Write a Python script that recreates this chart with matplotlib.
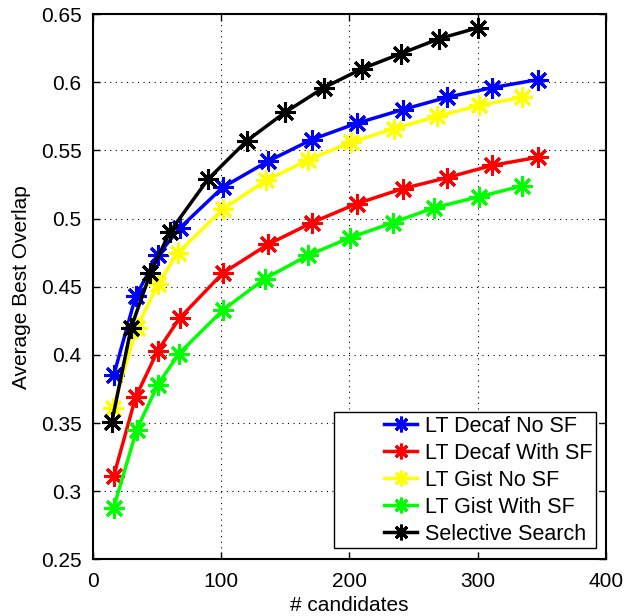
"""
plot average best overlap vs number of candidates
"""

import numpy as np
import matplotlib as mpl
import matplotlib.pyplot as plt
from matplotlib.legend_handler import HandlerLine2D

#%% global plot settings

mpl.rcParams['xtick.direction'] = 'in'
mpl.rcParams['ytick.direction'] = 'in'
mpl.rcParams['xtick.top'] = True
mpl.rcParams['ytick.right'] = True
mpl.rcParams['xtick.major.size'] = 5
mpl.rcParams['ytick.major.size'] = 5
plt.rc('font', **{'family': 'sans-serif', 'sans-serif': ['Liberation Sans'], 'size': 15})

#%% data

# LT Decaf No SF
x_decaf_nosf = [16.4, 33.5, 50.7, 67.8, 101.4, 136.5, 170.8, 205.9, 241.7, 276.0, 311.0, 347.0]
y_decaf_nosf = [0.385, 0.443, 0.473, 0.493, 0.523, 0.542, 0.558, 0.570, 0.580, 0.589, 0.596, 0.602]

# LT Decaf With SF
x_decaf_sf = [16.4, 33.5, 50.7, 67.8, 101.4, 136.5, 170.8, 205.9, 241.7, 276.0, 311.0, 347.0]
y_decaf_sf = [0.311, 0.369, 0.403, 0.427, 0.460, 0.481, 0.497, 0.511, 0.522, 0.530, 0.539, 0.545]

# LT Gist No SF
x_gist_nosf = [15.8, 34.5, 50.9, 66.5, 101.6, 135.1, 167.8, 201.3, 234.8, 268.3, 301.1, 334.6]
y_gist_nosf = [0.361, 0.420, 0.452, 0.475, 0.507, 0.528, 0.543, 0.556, 0.566, 0.575, 0.583, 0.589]

# LT Gist With SF
x_gist_sf = [16.4, 34.3, 50.7, 67.3, 101.6, 134.3, 167.8, 200.5, 234.0, 266.0, 301.0, 334.6]
y_gist_sf = [0.288, 0.345, 0.378, 0.401, 0.433, 0.456, 0.473, 0.486, 0.497, 0.508, 0.516, 0.524]

# Selective Search
x_ss = [15, 30, 45, 60, 90, 120, 150, 180, 210, 240, 270, 300]
y_ss = [0.351, 0.420, 0.460, 0.490, 0.529, 0.557, 0.578, 0.596, 0.610, 0.621, 0.632, 0.640]

xs = [x_decaf_nosf, x_decaf_sf, x_gist_nosf, x_gist_sf, x_ss]
ys = [y_decaf_nosf, y_decaf_sf, y_gist_nosf, y_gist_sf, y_ss]
legend = ['LT Decaf No SF', 'LT Decaf With SF', 'LT Gist No SF',
          'LT Gist With SF', 'Selective Search']
colors = ['#0000ff', '#ff0000', '#ffff00', '#00ff00', '#000000']

#%% plot

fig = plt.figure(figsize=(6.26, 6.16), dpi=100)
ax = fig.add_axes([0.148, 0.092, 0.820, 0.885])

# matlab style '*' marker: 8-armed asterisk
star = (8, 2, 0)

for i in range(len(xs)):
    ax.plot(xs[i], ys[i], color=colors[i], linestyle='-', linewidth=2.5,
            marker=star, markersize=15, markeredgewidth=2.2,
            markeredgecolor=colors[i], label=legend[i])

#------------------------------------------------------------------------------
# plot settings

# axes
ax.set_xlim(0, 400)
ax.set_ylim(0.25, 0.65)
ax.set_xticks(np.arange(0, 401, 100))
ax.set_yticks(np.arange(0.25, 0.651, 0.05))
ax.set_yticklabels(['0.25', '0.3', '0.35', '0.4', '0.45', '0.5', '0.55', '0.6', '0.65'])
ax.grid(True, linestyle=(0, (1, 4)), color='k', linewidth=0.8)
for s in ax.spines.values():
    s.set_linewidth(1.5)
ax.tick_params(axis='y', width=1.0, pad=8)
ax.tick_params(axis='x', width=1.0, pad=9)

ax.set_xlabel('# candidates', labelpad=4)
ax.set_ylabel('Average Best Overlap', labelpad=7)

# legend: matlab leaves a wide gap left of the handles
handler = HandlerLine2D(xpad=2.2)
leg = ax.legend(loc='lower right', bbox_to_anchor=(596 / 626, 68 / 616),
                bbox_transform=fig.transFigure, borderaxespad=0,
                fancybox=False, edgecolor='k', framealpha=1,
                prop={'size': 15.5}, handlelength=3.7, handletextpad=0.4,
                labelspacing=0.28, borderpad=0.15, markerscale=0.75,
                handler_map={mpl.lines.Line2D: handler})
leg.get_frame().set_linewidth(1.0)

fig.savefig('out.png', dpi=100)
